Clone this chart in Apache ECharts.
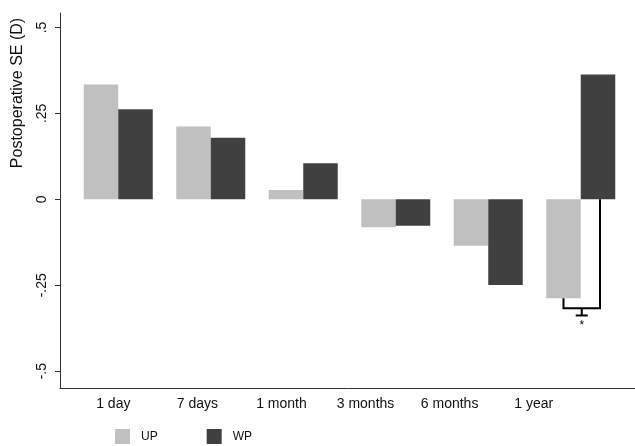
<!DOCTYPE html>
<html>
<head>
<meta charset="utf-8">
<script src="https://cdn.jsdelivr.net/npm/echarts@6/dist/echarts.min.js"></script>
<style>
  html, body { margin: 0; padding: 0; background: #fff; }
  #chart { width: 635px; height: 446px; }
</style>
</head>
<body>
<div id="chart"></div>
<script>
// data
const categories = ['1 day', '7 days', '1 month', '3 months', '6 months', '1 year'];
const upValues = [0.334, 0.212, 0.027, -0.081, -0.135, -0.288];
const wpValues = [0.262, 0.179, 0.105, -0.077, -0.249, 0.363];
const yTickValues = [-0.5, -0.25, 0, 0.25, 0.5];
const yTickLabels = ['-.5', '-.25', '0', '.25', '.5'];
const labelPositions = [0, 1, 2, 3, 4, 5];
// significance bracket on "1 year": bracket level, cap level, star level
const sigIndex = 5;
const sigLevels = [-0.317, -0.338, -0.368];

const FONT = "'Liberation Sans', Arial, sans-serif";
const BAR_W = 34.5;
const Y_MIN = -0.549, Y_MAX = 0.542;

const chart = echarts.init(document.getElementById('chart'));

function bracket(params, api) {
    const cx = api.coord([sigIndex, 0])[0];
    const up = upValues[sigIndex], wp = wpValues[sigIndex];
    const yUp = api.coord([sigIndex, up < 0 ? up : 0])[1];
    const yWp = api.coord([sigIndex, wp < 0 ? wp : 0])[1];
    const yB = api.coord([sigIndex, sigLevels[0]])[1];
    const yC = api.coord([sigIndex, sigLevels[1]])[1];
    const yS = api.coord([sigIndex, sigLevels[2]])[1];
    const xL = cx - BAR_W / 2, xR = cx + BAR_W / 2 + 2;
    const xM = (xL + xR) / 2;
    const ln = { stroke: '#000', lineWidth: 2, fill: null };
    return {
        type: 'group',
        children: [
            { type: 'polyline', shape: { points: [[xL, yUp], [xL, yB], [xR, yB], [xR, yWp]] }, style: ln },
            { type: 'line', shape: { x1: xM, y1: yB, x2: xM, y2: yC }, style: ln },
            { type: 'line', shape: { x1: xM - 6, y1: yC, x2: xM + 6, y2: yC }, style: ln },
            { type: 'text', x: xM, y: yS, style: { text: '*', fill: '#000', font: '12px ' + FONT, align: 'center', verticalAlign: 'middle' } }
        ]
    };
}

chart.setOption({
    animation: false,
    backgroundColor: '#fff',
    textStyle: { fontFamily: FONT },
    grid: [
        { left: 72, right: 8, top: 13, bottom: 58 },
        { left: 60, right: 0, top: 13, bottom: 58 }
    ],
    xAxis: [
        {
            type: 'category', gridIndex: 0, data: categories,
            axisLine: { show: false }, axisTick: { show: false }, axisLabel: { show: false }
        },
        {
            type: 'value', gridIndex: 1, min: -0.634, max: 6.205,
            splitLine: { show: false },
            axisLine: { show: true, onZero: false, lineStyle: { color: '#333', width: 1 } },
            axisTick: { show: false },
            axisLabel: {
                customValues: labelPositions,
                formatter: (v) => categories[Math.round(v)],
                color: '#111', fontSize: 14, margin: 9, fontFamily: FONT
            }
        }
    ],
    yAxis: [
        {
            type: 'value', gridIndex: 0, min: Y_MIN, max: Y_MAX,
            show: false, splitLine: { show: false }
        },
        {
            type: 'value', gridIndex: 1, min: Y_MIN, max: Y_MAX,
            splitLine: { show: false },
            axisLine: { show: true, onZero: false, lineStyle: { color: '#333', width: 1 } },
            axisTick: { show: true, length: 5, customValues: yTickValues, lineStyle: { color: '#333' } },
            axisLabel: {
                customValues: yTickValues,
                formatter: (v) => yTickLabels[yTickValues.indexOf(v)],
                rotate: 90, color: '#111', fontSize: 14, margin: 11, fontFamily: FONT
            }
        }
    ],
    legend: {
        data: ['UP', 'WP'],
        left: 115, top: 429, padding: 0,
        icon: 'rect', itemWidth: 15, itemHeight: 15, itemGap: 49,
        textStyle: { fontSize: 12, color: '#111', padding: [0, 0, 0, 6], fontFamily: FONT }
    },
    graphic: [{
        type: 'text', x: 18, y: 93, rotation: Math.PI / 2,
        style: { text: 'Postoperative SE (D)', font: '16px ' + FONT, fill: '#111', align: 'center', verticalAlign: 'middle' }
    }],
    series: [
        {
            name: 'UP', type: 'bar', xAxisIndex: 0, yAxisIndex: 0,
            data: upValues, barWidth: BAR_W, barGap: '0%',
            itemStyle: { color: '#c0c0c0' }
        },
        {
            name: 'WP', type: 'bar', xAxisIndex: 0, yAxisIndex: 0,
            data: wpValues, barWidth: BAR_W, barGap: '0%',
            itemStyle: { color: '#404040' }
        },
        {
            type: 'custom', xAxisIndex: 0, yAxisIndex: 0,
            data: [[sigIndex]], renderItem: bracket, silent: true, z: 5
        }
    ]
});
</script>
</body>
</html>
